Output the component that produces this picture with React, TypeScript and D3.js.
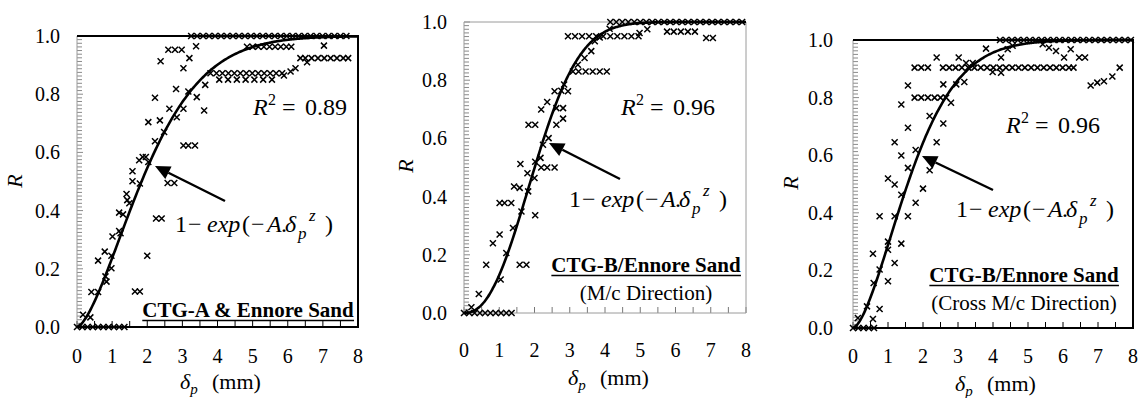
import React, { useRef, useEffect } from 'react';
import * as d3 from 'd3';

type Pt = [number, number];

// CTG-A & Ennore Sand (delta_p in mm, R)
const ctgAPoints: Pt[] = [
  [0, 0], [0.15, 0], [0.3, 0], [0.45, 0], [0.6, 0], [0.75, 0], [0.9, 0], [1.05, 0], [1.2, 0], [1.35, 0],
  [0.17, 0.042], [0.38, 0.033], [0.41, 0.12], [0.6, 0.12], [0.6, 0.228], [0.79, 0.259], [0.98, 0.245],
  [0.81, 0.174], [0.84, 0.156], [0.98, 0.202], [1.01, 0.311], [1.2, 0.33], [1.24, 0.322], [1.2, 0.393],
  [1.31, 0.387], [1.41, 0.457], [1.43, 0.436], [1.49, 0.425], [1.58, 0.535], [1.58, 0.501], [1.79, 0.493],
  [1.77, 0.573], [1.87, 0.584], [1.96, 0.584], [2.03, 0.567], [2.03, 0.704], [2.22, 0.638], [2.36, 0.71],
  [2.48, 0.67], [2.22, 0.788], [2.0, 0.245], [1.65, 0.122], [1.79, 0.122], [2.25, 0.373], [2.41, 0.373],
  [2.58, 0.495], [2.77, 0.495], [2.63, 0.75], [2.82, 0.818], [2.84, 0.721], [3.03, 0.624], [3.17, 0.624],
  [3.36, 0.624], [3.03, 0.75], [3.17, 0.809], [3.41, 0.79], [3.62, 0.744], [3.65, 0.832], [2.38, 0.913],
  [2.6, 0.953], [2.79, 0.953], [2.98, 0.953], [3.03, 0.889], [3.2, 0.924], [3.39, 0.965],
  [3.25, 1], [3.42, 1], [3.59, 1], [3.76, 1], [3.93, 1], [4.1, 1], [4.27, 1], [4.44, 1], [4.61, 1],
  [4.78, 1], [4.95, 1], [5.12, 1], [5.29, 1], [5.46, 1], [5.63, 1], [5.8, 1], [5.97, 1], [6.14, 1],
  [6.31, 1], [6.48, 1], [6.65, 1], [6.82, 1], [6.99, 1], [7.16, 1], [7.33, 1], [7.5, 1], [7.67, 1],
  [4.84, 0.963], [5.0, 0.963], [5.16, 0.963], [5.32, 0.963], [5.48, 0.963], [5.64, 0.963], [5.8, 0.963],
  [5.96, 0.963], [6.1, 0.963], [7.03, 0.967],
  [3.8, 0.872], [3.97, 0.872], [4.14, 0.872], [4.31, 0.872], [4.48, 0.872], [4.65, 0.872], [4.82, 0.872],
  [4.99, 0.872], [5.16, 0.872], [5.33, 0.872], [5.5, 0.872], [5.67, 0.872], [5.84, 0.872],
  [4.05, 0.85], [4.3, 0.85], [4.55, 0.85], [4.8, 0.85], [5.05, 0.85], [5.3, 0.85], [5.55, 0.85],
  [5.89, 0.864], [6.08, 0.878], [6.22, 0.889], [6.36, 0.924], [6.55, 0.91], [6.5, 0.924], [6.68, 0.924],
  [6.86, 0.924], [7.04, 0.924], [7.22, 0.924], [7.4, 0.924], [7.58, 0.924], [7.72, 0.924]
];

// CTG-B/Ennore Sand, machine direction
const ctgBMcPoints: Pt[] = [
  [0, 0], [0.15, 0], [0.3, 0], [0.45, 0], [0.6, 0], [0.75, 0], [0.9, 0], [1.05, 0], [1.2, 0], [1.35, 0],
  [0.21, 0.02], [0.42, 0.065], [0.63, 0.166], [1.04, 0.115], [0.82, 0.24], [1.01, 0.27], [1.01, 0.378],
  [1.15, 0.378], [1.34, 0.378], [1.2, 0.206], [1.39, 0.292], [1.63, 0.349], [2.02, 0.336], [1.58, 0.166],
  [1.77, 0.166], [1.42, 0.435], [1.58, 0.43], [1.6, 0.512], [1.8, 0.48], [1.82, 0.418], [2.02, 0.52],
  [2.17, 0.533], [2.0, 0.464], [2.19, 0.5], [2.36, 0.5], [2.57, 0.5], [1.83, 0.647], [2.02, 0.647],
  [2.19, 0.699], [2.36, 0.725], [2.24, 0.578], [2.4, 0.601], [2.62, 0.647], [2.81, 0.668], [2.57, 0.762],
  [2.76, 0.764], [2.84, 0.785], [2.62, 0.704], [2.81, 0.704], [2.95, 0.762], [3.09, 0.83], [3.25, 0.83],
  [3.45, 0.83], [3.65, 0.83], [3.85, 0.83], [4.05, 0.83], [3.23, 0.853], [3.42, 0.876], [3.61, 0.9],
  [3.71, 0.934], [3.85, 0.947], [4.13, 0.977],
  [2.95, 0.951], [3.15, 0.951], [3.35, 0.951], [3.55, 0.951], [3.75, 0.951], [3.95, 0.951], [4.15, 0.951],
  [4.35, 0.951], [4.55, 0.951], [4.75, 0.951], [4.95, 0.951],
  [4.15, 1], [4.32, 1], [4.49, 1], [4.66, 1], [4.83, 1], [5.0, 1], [5.17, 1], [5.34, 1], [5.51, 1],
  [5.68, 1], [5.85, 1], [6.02, 1], [6.19, 1], [6.36, 1], [6.53, 1], [6.7, 1], [6.87, 1], [7.04, 1],
  [7.21, 1], [7.38, 1], [7.55, 1], [7.72, 1], [7.89, 1],
  [4.98, 0.962], [5.2, 0.975], [5.76, 0.967], [5.95, 0.967], [6.15, 0.967], [6.35, 0.967], [6.55, 0.967],
  [6.87, 0.945], [7.06, 0.945]
];

// CTG-B/Ennore Sand, cross machine direction
const ctgBCrossPoints: Pt[] = [
  [0, 0], [0.15, 0], [0.3, 0], [0.45, 0], [0.6, 0],
  [0.14, 0.035], [0.4, 0.075], [0.57, 0.031], [0.76, 0.066], [0.59, 0.156], [0.76, 0.203], [1.0, 0.162],
  [0.57, 0.258], [1.0, 0.272], [1.19, 0.226], [1.0, 0.3], [0.76, 0.388], [1.19, 0.388], [1.57, 0.388],
  [1.0, 0.519], [1.19, 0.498], [1.38, 0.463], [1.38, 0.293], [1.57, 0.556], [1.38, 0.599], [1.79, 0.435],
  [2.0, 0.484], [1.19, 0.645], [1.57, 0.695], [1.79, 0.618], [2.19, 0.548], [1.38, 0.776], [1.57, 0.842],
  [2.39, 0.645], [2.58, 0.71], [2.19, 0.736],
  [1.76, 0.8], [1.95, 0.8], [2.14, 0.8], [2.33, 0.8], [2.5, 0.8], [2.66, 0.8],
  [2.58, 0.846], [2.8, 0.782], [2.95, 0.846], [3.18, 0.854],
  [1.76, 0.904], [1.95, 0.904], [2.14, 0.904], [2.39, 0.939],
  [2.57, 0.904], [2.75, 0.904], [2.93, 0.904], [3.11, 0.904], [3.29, 0.904], [3.47, 0.904], [3.65, 0.904],
  [3.83, 0.904], [4.01, 0.904], [4.19, 0.904], [4.37, 0.904], [4.55, 0.904], [4.73, 0.904], [4.91, 0.904],
  [5.09, 0.904], [5.27, 0.904], [5.45, 0.904], [5.63, 0.904], [5.81, 0.904], [5.99, 0.904], [6.17, 0.904],
  [6.3, 0.904],
  [3.02, 0.939], [3.23, 0.92], [3.42, 0.92], [3.8, 0.97], [4.23, 0.939], [4.42, 0.968], [4.56, 0.98],
  [4.23, 0.886], [3.99, 0.889],
  [4.2, 1], [4.37, 1], [4.54, 1], [4.71, 1], [4.88, 1], [5.05, 1], [5.22, 1], [5.39, 1], [5.56, 1],
  [5.73, 1], [5.9, 1], [6.07, 1], [6.24, 1], [6.41, 1], [6.58, 1], [6.75, 1], [6.92, 1], [7.09, 1],
  [7.26, 1], [7.43, 1], [7.6, 1], [7.77, 1], [7.94, 1],
  [5.42, 0.985], [5.6, 0.973], [5.8, 0.962], [6.03, 0.939], [6.22, 0.968], [6.46, 0.939], [6.63, 0.939],
  [6.79, 0.842], [6.98, 0.852], [7.17, 0.857], [7.41, 0.873], [7.62, 0.904]
];

const xTicks = [0, 1, 2, 3, 4, 5, 6, 7, 8];
const yTicks = [0, 0.2, 0.4, 0.6, 0.8, 1.0];

// fitted model R = 1 - exp(-A * dp^z)
const fitA = [0.27, 0.14, 0.34];
const fitZ = [1.55, 2.3, 1.6];
const r2Labels = ['0.89', '0.96', '0.96'];
const titles = ['CTG-A & Ennore Sand', 'CTG-B/Ennore Sand', 'CTG-B/Ennore Sand'];
const subtitles = ['', '(M/c Direction)', '(Cross M/c Direction)'];

const FONT = 'Liberation Serif, Times New Roman, serif';

const layout = [
  { x0: 77, x1: 358, y0: 36, y1: 327, dark: true, tickGap: 17, xLabY: 363, rX: 22, rY: 181,
    axT: [180, 389], r2: [253, 115], formula: [175, 232], arrow: [225, 201, 155, 166], title: [248, 317], sub: 0 },
  { x0: 464, x1: 746, y0: 22, y1: 313, dark: false, tickGap: 17, xLabY: 357, rX: 413, rY: 166,
    axT: [568, 385], r2: [621, 115], formula: [569, 207], arrow: [620, 179, 549, 143], title: [646, 272], sub: 300 },
  { x0: 853, x1: 1133, y0: 40, y1: 328, dark: true, tickGap: 20, xLabY: 363, rX: 798, rY: 183,
    axT: [955, 391], r2: [1006, 133], formula: [956, 217], arrow: [993, 190, 922, 156], title: [1024, 282], sub: 310 }
];

const pointSets = [ctgAPoints, ctgBMcPoints, ctgBCrossPoints];

const App: React.FC = () => {
  const svgRef = useRef<SVGSVGElement>(null);

  useEffect(() => {
    if (!svgRef.current) return;
    const svg = d3.select(svgRef.current);
    svg.selectAll('*').remove();

    svg.append('rect').attr('width', 1141).attr('height', 398).attr('fill', '#fff');

    layout.forEach((L, i) => {
      const x = d3.scaleLinear().domain([0, 8]).range([L.x0, L.x1]);
      const y = d3.scaleLinear().domain([0, 1]).range([L.y1, L.y0]);
      const g = svg.append('g').style('font-family', FONT).attr('fill', '#000');
      const gray = '#9a9a9a';
      const frameColor = L.dark ? '#000' : gray;
      const frameW = L.dark ? 2 : 1;

      // minor ticks on the left axis (inside)
      d3.range(0, 81).forEach(k => {
        const yy = y(k / 80);
        g.append('line')
          .attr('x1', L.x0).attr('x2', L.x0 + (k % 16 === 0 ? 6 : 5))
          .attr('y1', yy).attr('y2', yy)
          .attr('stroke', '#8a8a8a').attr('stroke-width', 1);
      });
      // ticks on the bottom axis (inside)
      d3.range(0, 17).forEach(k => {
        const xx = x(k / 2);
        g.append('line')
          .attr('x1', xx).attr('x2', xx)
          .attr('y1', L.y1).attr('y2', L.y1 - 6)
          .attr('stroke', L.dark ? '#000' : '#777').attr('stroke-width', 1);
      });

      // frame
      g.append('line').attr('x1', L.x0).attr('x2', L.x0).attr('y1', L.y0).attr('y2', L.y1)
        .attr('stroke', gray).attr('stroke-width', 1);
      g.append('path')
        .attr('d', `M${L.x0},${L.y0}H${L.x1}V${L.y1}H${L.x0}`)
        .attr('fill', 'none').attr('stroke', frameColor).attr('stroke-width', frameW);

      // y tick labels
      yTicks.forEach(t => {
        g.append('text')
          .attr('x', L.x0 - L.tickGap).attr('y', y(t) + 7)
          .attr('text-anchor', 'end')
          .attr('font-size', 20)
          .text(t.toFixed(1));
      });
      // x tick labels
      xTicks.forEach(t => {
        g.append('text')
          .attr('x', x(t)).attr('y', L.xLabY)
          .attr('text-anchor', 'middle')
          .attr('font-size', 20)
          .text(String(t));
      });

      // y axis title
      g.append('text')
        .attr('transform', `translate(${L.rX},${L.rY}) rotate(-90)`)
        .attr('text-anchor', 'middle')
        .attr('font-size', 22).attr('font-style', 'italic')
        .text('R');

      // x axis title
      const xt = g.append('text')
        .attr('x', L.axT[0]).attr('y', L.axT[1])
        .attr('font-size', 22);
      xt.append('tspan').attr('font-style', 'italic').text('δ');
      xt.append('tspan').attr('font-style', 'italic').attr('font-size', 15).attr('dy', 5).text('p');
      xt.append('tspan').attr('x', L.axT[0] + 32).attr('dy', -5).text('(mm)');

      // points
      const cross = 'M-3,-3L3,3M-3,3L3,-3';
      g.selectAll('.pt')
        .data(pointSets[i])
        .enter()
        .append('path')
        .attr('transform', d => `translate(${x(d[0])},${y(d[1])})`)
        .attr('d', cross)
        .attr('stroke', '#000').attr('stroke-width', 1.5).attr('fill', 'none');

      // fitted curve
      const xs = d3.range(0, 8.0001, 0.04);
      const line = d3.line<number>()
        .x(v => x(v))
        .y(v => y(1 - Math.exp(-fitA[i] * Math.pow(v, fitZ[i]))))
        .curve(d3.curveMonotoneX);
      g.append('path')
        .attr('d', line(xs) || '')
        .attr('fill', 'none').attr('stroke', '#000').attr('stroke-width', 2.6);

      // arrow
      const [tx, ty, hx, hy] = L.arrow;
      const ang = Math.atan2(ty - hy, tx - hx);
      const hl = 15, hw = 7;
      const bx = hx + hl * Math.cos(ang), by = hy + hl * Math.sin(ang);
      g.append('line').attr('x1', tx).attr('y1', ty).attr('x2', bx).attr('y2', by)
        .attr('stroke', '#000').attr('stroke-width', 2.4);
      g.append('path')
        .attr('d', `M${hx},${hy}L${bx + hw * Math.sin(ang)},${by - hw * Math.cos(ang)}L${bx - hw * Math.sin(ang)},${by + hw * Math.cos(ang)}Z`)
        .attr('fill', '#000');

      // formula 1 - exp(-A.dp^z)
      const [fx, fy] = L.formula;
      const f = g.append('text').attr('x', fx).attr('y', fy).attr('font-size', 24);
      f.append('tspan').attr('x', fx).text('1');
      f.append('tspan').attr('x', fx + 13).text('−');
      f.append('tspan').attr('x', fx + 32).attr('font-style', 'italic').text('exp');
      f.append('tspan').attr('x', fx + 67).text('(');
      f.append('tspan').attr('x', fx + 76).text('−');
      f.append('tspan').attr('x', fx + 92).attr('font-style', 'italic').text('A');
      f.append('tspan').attr('x', fx + 106).text('.');
      f.append('tspan').attr('x', fx + 110).attr('font-style', 'italic').text('δ');
      f.append('tspan').attr('x', fx + 123).attr('dy', 7).attr('font-style', 'italic').attr('font-size', 17).text('p');
      f.append('tspan').attr('x', fx + 134).attr('dy', -18).attr('font-style', 'italic').attr('font-size', 17).text('z');
      f.append('tspan').attr('x', fx + 150).attr('dy', 11).text(')');

      // R^2
      const [rx, ry] = L.r2;
      const r = g.append('text').attr('x', rx).attr('y', ry).attr('font-size', 24);
      r.append('tspan').attr('x', rx).attr('font-style', 'italic').text('R');
      r.append('tspan').attr('x', rx + 15).attr('font-size', 16).attr('dy', -10).text('2');
      r.append('tspan').attr('x', rx + 29).attr('dy', 10).text('=');
      r.append('tspan').attr('x', rx + 52).text(r2Labels[i]);

      // panel title (bold, underlined)
      const tt = g.append('text')
        .attr('x', L.title[0]).attr('y', L.title[1])
        .attr('text-anchor', 'middle')
        .attr('font-size', 21).attr('font-weight', 700)
        .text(titles[i]);
      const bb = (tt.node() as SVGTextElement).getBBox();
      g.append('line')
        .attr('x1', bb.x).attr('x2', bb.x + bb.width)
        .attr('y1', L.title[1] + 3.5).attr('y2', L.title[1] + 3.5)
        .attr('stroke', '#000').attr('stroke-width', 1.6);
      if (subtitles[i]) {
        g.append('text')
          .attr('x', L.title[0]).attr('y', L.sub)
          .attr('text-anchor', 'middle')
          .attr('font-size', 21)
          .text(subtitles[i]);
      }
    });
  }, []);

  return (
    <svg ref={svgRef} width={1141} height={398}
      style={{ position: 'absolute', left: 0, top: 0, display: 'block' }} />
  );
};

export default App;
